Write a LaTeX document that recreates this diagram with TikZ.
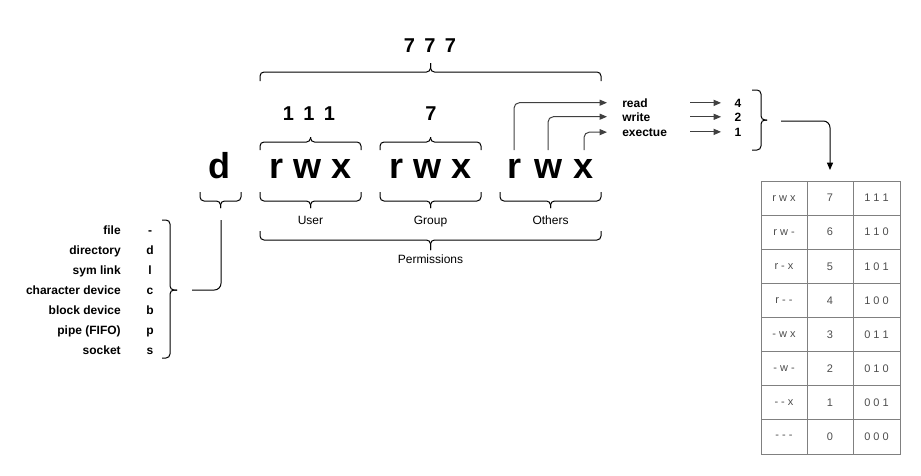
\documentclass[tikz,border=0pt]{standalone}
\usepackage{fontspec}
\setmainfont{Liberation Sans}
\usetikzlibrary{arrows.meta}
\definecolor{arrgray}{HTML}{404040}
\definecolor{cellline}{HTML}{808080}
\definecolor{celltext}{HTML}{4D4D4D}
\begin{document}
\begin{tikzpicture}[x=0.75pt,y=-0.75pt,
  brace/.style={draw=black,line width=0.75pt,rounded corners=3pt},
  big/.style={font=\fontsize{27pt}{30pt}\selectfont\bfseries,anchor=base,inner sep=0pt},
  digits/.style={font=\fontsize{15pt}{18pt}\selectfont\bfseries,anchor=base,inner sep=0pt},
  lbl/.style={font=\fontsize{9pt}{11pt}\selectfont,anchor=base,inner sep=0pt},
  small/.style={font=\fontsize{9pt}{11pt}\selectfont\bfseries,inner sep=0pt},
  garr/.style={draw=arrgray,line width=0.75pt,rounded corners=4pt,-{Triangle[length=5.5pt,width=4.5pt]}},
  karr/.style={draw=black,line width=0.75pt,rounded corners=5pt,-{Triangle[length=5.5pt,width=4.5pt]}},
  kline/.style={draw=black,line width=0.75pt,rounded corners=5pt},
  cell/.style={draw=cellline,line width=0.75pt,inner sep=0pt,outer sep=0pt,
    minimum width=34.5pt,minimum height=25.59pt,text=celltext,
    font=\fontsize{8.25pt}{10pt}\selectfont}
]
\useasboundingbox (0,0) rectangle (921,475);

% ---------- big letters ----------
\node[big] (d) at (219.5,178) {d};
\node[big] (urwx) at (310.5,178) {r w x};
\node[big] (grwx) at (430.5,178) {r w x};
\node[big] (oR) at (514,178) {r};
\node[big] (oW) at (548,178) {w};
\node[big] (oX) at (584,178) {x};

% ---------- octal labels ----------
\node[digits] (n777) at (430,52) {7\hspace{7pt}7\hspace{7pt}7};
\node[digits] (n111) at (309,120) {1\hspace{7pt}1\hspace{7pt}1};
\node[digits] (n7) at (431,120) {7};

% ---------- braces (tip up) ----------
\draw[brace] (260,81) |- (430.5,72) -- (430.5,63);
\draw[brace] (430.5,63) -- (430.5,72) -| (601,81);
\draw[brace] (260,150) |- (310.5,142) -- (310.5,137);
\draw[brace] (310.5,137) -- (310.5,142) -| (361,150);
\draw[brace] (380,150) |- (430.5,142) -- (430.5,137);
\draw[brace] (430.5,137) -- (430.5,142) -| (481,150);

% ---------- braces (tip down) ----------
\draw[brace] (200,192) |- (220.5,201) -- (220.5,208);
\draw[brace] (220.5,208) -- (220.5,201) -| (241,192);
\draw[brace] (260,192) |- (310.5,201) -- (310.5,208);
\draw[brace] (310.5,208) -- (310.5,201) -| (361,192);
\draw[brace] (380,192) |- (430.5,201) -- (430.5,208);
\draw[brace] (430.5,208) -- (430.5,201) -| (481,192);
\draw[brace] (500,192) |- (550.5,201) -- (550.5,208);
\draw[brace] (550.5,208) -- (550.5,201) -| (601,192);
\draw[brace] (260,231) |- (430.5,240) -- (430.5,250);
\draw[brace] (430.5,250) -- (430.5,240) -| (601,231);

\node[lbl] (user) at (310.5,224) {User};
\node[lbl] (group) at (430.5,224) {Group};
\node[lbl] (others) at (550.5,224) {Others};
\node[lbl] (perm) at (430.5,263) {Permissions};

% ---------- file types ----------
\foreach \t/\c [count=\i from 0] in {file/-,directory/d,sym link/l,character device/c,block device/b,pipe (FIFO)/p,socket/s}{
  \node[small,anchor=base east] (ft\i) at (121,234+20*\i) {\t};
  \node[small,anchor=base] (fc\i) at (150,234+20*\i) {\c};
}
\draw[brace] (162,220) -| (170,290) -- (177,290);
\draw[brace] (177,290) -- (170,290) |- (162,358);
\coordinate (dS) at (221,220);
\coordinate (lbT) at (192,290);
\draw[kline] (dS) |- (lbT);

% ---------- read / write / execute ----------
\node[small,anchor=base west] (read) at (622,107) {read};
\node[small,anchor=base west] (write) at (622,121) {write};
\node[small,anchor=base west] (exec) at (622,136) {exectue};
\node[small,anchor=base] (v4) at (738,107) {4};
\node[small,anchor=base] (v2) at (738,121) {2};
\node[small,anchor=base] (v1) at (738,136) {1};

\draw[garr] (oR |- 0,150) |- ([xshift=-11.25pt]read.west);
\draw[garr] (oW |- 0,150) |- ([xshift=-11.25pt]write.west);
\draw[garr] (oX |- 0,150) |- ([xshift=-11.25pt]exec.west);

\draw[garr] ([xshift=-33pt]v4.west) -- ([xshift=-10pt]v4.west);
\draw[garr] ([xshift=-33pt]v2.west) -- ([xshift=-10pt]v2.west);
\draw[garr] ([xshift=-33pt]v1.west) -- ([xshift=-10pt]v1.west);

\draw[brace] (752,90) -| (761,120) -- (767,120);
\draw[brace] (767,120) -- (761,120) |- (752,150);

% ---------- table ----------
\foreach \a/\b/\c [count=\i from 0] in {r w x/7/1 1 1, r w -/6/1 1 0, r - x/5/1 0 1, r - -/4/1 0 0, - w x/3/0 1 1, - w -/2/0 1 0, - - x/1/0 0 1, - - -/0/0 0 0}{
  \node[cell] (ta\i) at (784,198.06+34.125*\i) {\a};
  \node[cell] (tb\i) at (830,198.06+34.125*\i) {\b};
  \node[cell,minimum width=35.25pt] (tc\i) at (876.5,198.06+34.125*\i) {\c};
}
\coordinate (rbT) at (781,121);
\draw[karr] (rbT) -| ([yshift=8.25pt]tb0.north);
\end{tikzpicture}
\end{document}
